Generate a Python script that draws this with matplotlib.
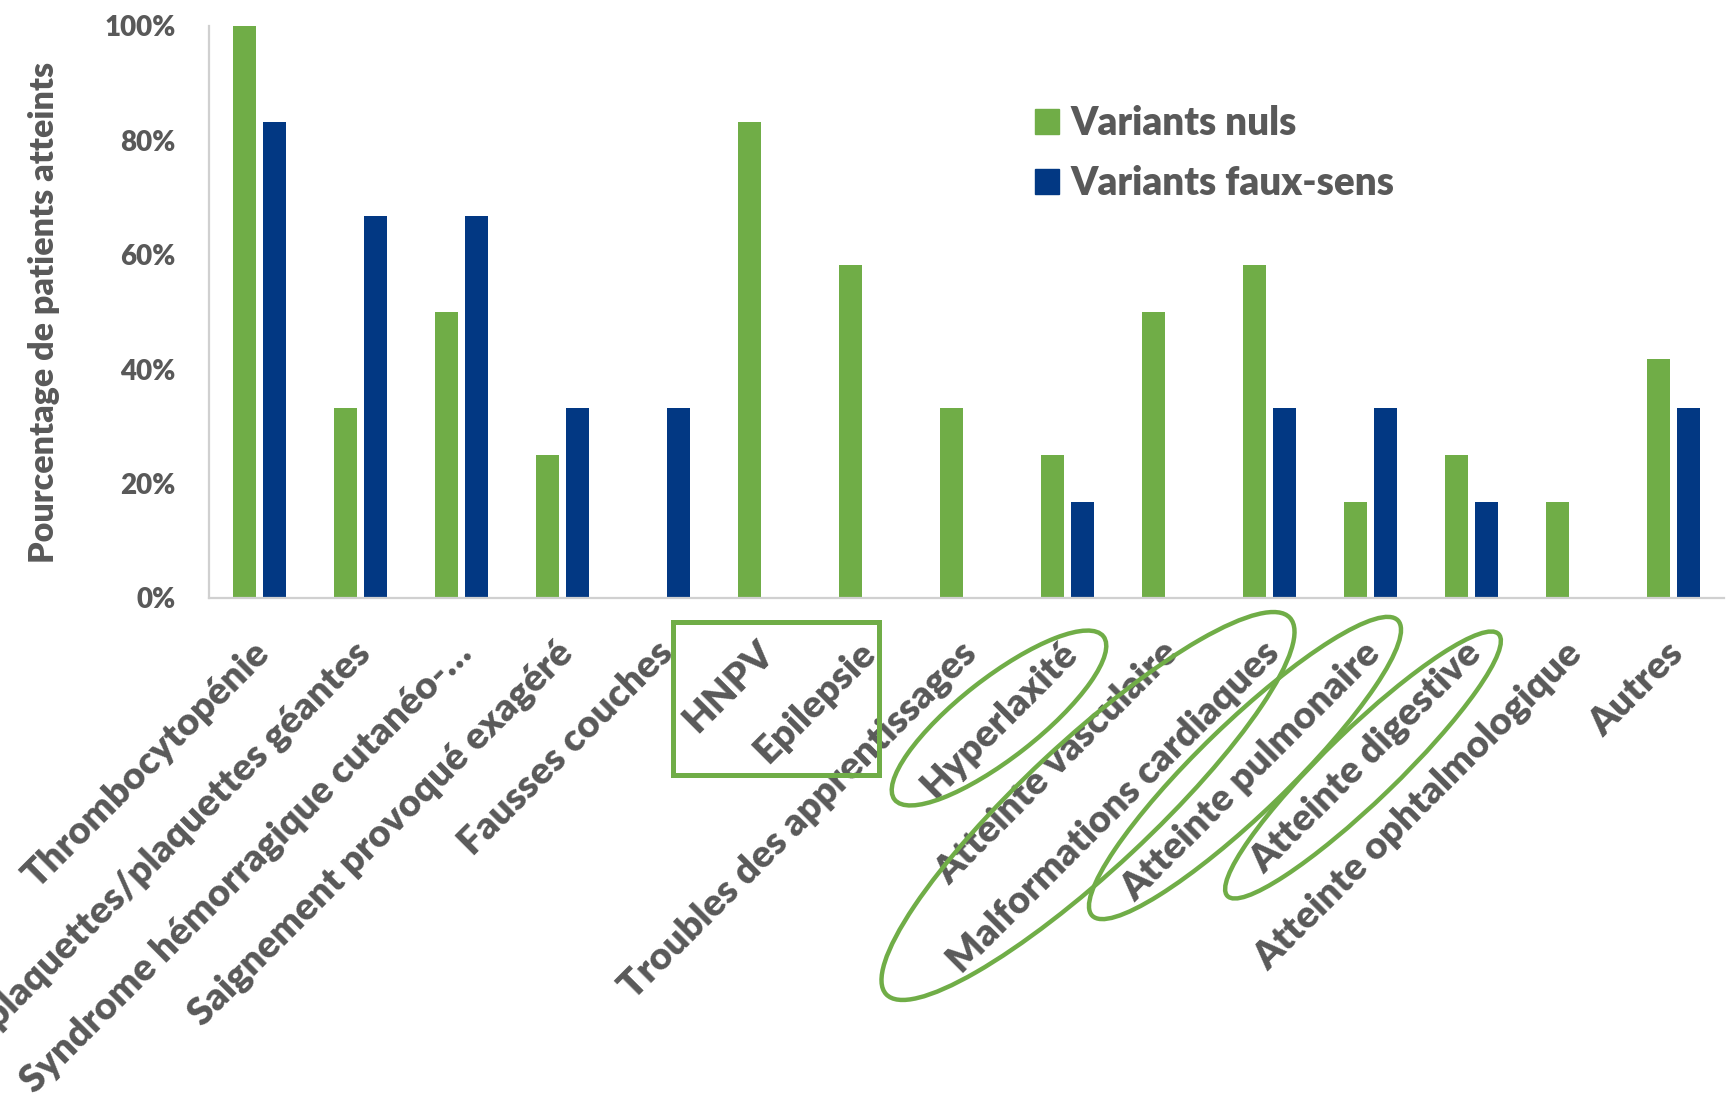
import matplotlib
matplotlib.use("Agg")
import matplotlib.pyplot as plt
from matplotlib.patches import Patch, Ellipse, Rectangle
from matplotlib.ticker import PercentFormatter
from matplotlib.transforms import ScaledTranslation
import numpy as np

plt.rcParams["font.family"] = ["Lato", "DejaVu Sans"]
plt.rcParams["font.weight"] = "heavy"
plt.rcParams["axes.labelweight"] = "heavy"

GREEN = "#70AD47"
BLUE = "#023883"
GREY = "#595959"

categories = [
    "Thrombocytopénie",
    "Macroplaquettes/plaquettes géantes",
    "Syndrome hémorragique cutanéo-…",
    "Saignement provoqué exagéré",
    "Fausses couches",
    "HNPV",
    "Epilepsie",
    "Troubles des apprentissages",
    "Hyperlaxité",
    "Atteinte vasculaire",
    "Malformations cardiaques",
    "Atteinte pulmonaire",
    "Atteinte digestive",
    "Atteinte ophtalmologique",
    "Autres",
]
variants_nuls = [100, 33.3, 50, 25, 0, 83.3, 58.3, 33.3, 25, 50, 58.3, 16.7, 25, 16.7, 41.7]
variants_faux_sens = [83.3, 66.7, 66.7, 33.3, 33.3, 0, 0, 0, 16.7, 0, 33.3, 33.3, 16.7, 0, 33.3]
yticks = [0, 20, 40, 60, 80, 100]

W, H = 1729, 1095
fig = plt.figure(figsize=(W / 100, H / 100), dpi=100)
ax = fig.add_axes([209 / W, 1 - 598 / H, 1515 / W, 572 / H])

x = np.arange(len(categories))
bw = 0.228
ax.bar(x - 0.144, variants_nuls, bw, color=GREEN, label="Variants nuls")
ax.bar(x + 0.144, variants_faux_sens, bw, color=BLUE, label="Variants faux-sens")

ax.set_xlim(-0.5, len(categories) - 0.5)
ax.set_ylim(0, 100)
ax.set_yticks(yticks)
ax.yaxis.set_major_formatter(PercentFormatter(decimals=0))
ax.tick_params(axis="y", length=0, pad=24, labelsize=20, labelcolor=GREY)
ax.tick_params(axis="x", length=0, pad=27, labelsize=27.6, labelcolor=GREY)
ax.set_xticks(x)
ax.set_xticklabels(categories)
shift = ScaledTranslation(-0.08, 0, fig.dpi_scale_trans)
for lbl in ax.get_xticklabels():
    lbl.set_rotation(45)
    lbl.set_ha("right")
    lbl.set_va("top")
    lbl.set_rotation_mode("anchor")
    lbl.set_transform(lbl.get_transform() + shift)

for s in ["top", "right"]:
    ax.spines[s].set_visible(False)
for s in ["left", "bottom"]:
    ax.spines[s].set_color("#D0D0D0")
    ax.spines[s].set_linewidth(1.6)

ax.set_ylabel("Pourcentage de patients atteints", fontsize=24.5, color=GREY)
ax.yaxis.set_label_coords(-0.0985, 0.5)

handles = [Patch(color=GREEN), Patch(color=BLUE)]
ax.legend(handles, ["Variants nuls", "Variants faux-sens"], loc="upper left",
          bbox_to_anchor=(1000 / W, 1 - 70 / H), bbox_transform=fig.transFigure,
          frameon=False, fontsize=27.8, labelcolor=GREY,
          handlelength=0.62, handleheight=0.62, handletextpad=0.3, labelspacing=0.6)

# highlight shapes drawn in pixel space over the whole figure
ov = fig.add_axes([0, 0, 1, 1], facecolor="none")
ov.set_xlim(0, W)
ov.set_ylim(H, 0)
ov.axis("off")
ov.add_patch(Rectangle((673, 622), 206, 153, fill=False, ec=GREEN, lw=3.6))
for cx, cy, w, h, ang in [(999, 718, 265, 80, 38),
                          (1088, 806, 552, 128, 43),
                          (1245, 768, 425, 90, 44),
                          (1363, 765, 377, 72, 44)]:
    ov.add_patch(Ellipse((cx, cy), w, h, angle=-ang, fill=False, ec=GREEN, lw=3.2))

fig.savefig("out.png", dpi=100)
